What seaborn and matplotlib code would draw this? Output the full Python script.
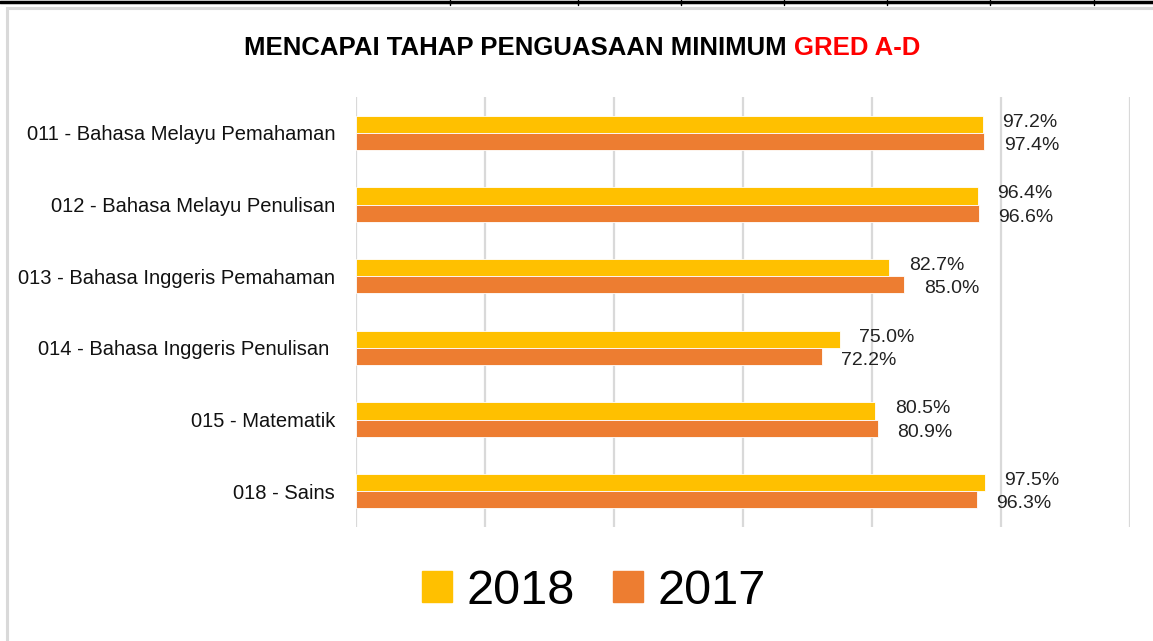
import matplotlib
matplotlib.use('Agg')
import matplotlib.pyplot as plt
import seaborn as sns
import pandas as pd
from matplotlib.lines import Line2D
from matplotlib.patches import Rectangle

subjects = ['011 - Bahasa Melayu Pemahaman',
            '012 - Bahasa Melayu Penulisan',
            '013 - Bahasa Inggeris Pemahaman',
            '014 - Bahasa Inggeris Penulisan ',
            '015 - Matematik',
            '018 - Sains']
years = ['2018', '2017']
pct_2018 = [97.2, 96.4, 82.7, 75.0, 80.5, 97.5]
pct_2017 = [97.4, 96.6, 85.0, 72.2, 80.9, 96.3]
colors = ['#FFC000', '#ED7D31']

df = pd.DataFrame({'subject': subjects * 2,
                   'year': [years[0]] * 6 + [years[1]] * 6,
                   'value': pct_2018 + pct_2017})

sns.set_style('white')
plt.rcParams['font.family'] = ['Liberation Sans', 'DejaVu Sans']
plt.rcParams['text.color'] = 'black'

fig = plt.figure(figsize=(11.53, 6.41), dpi=100)
ax = fig.add_axes([356 / 1153, 1 - 527 / 641, (1130 - 356) / 1153, 430 / 641])

sns.barplot(data=df, y='subject', x='value', hue='year', hue_order=years,
            order=subjects, palette=colors, saturation=1, orient='h', width=0.475,
            edgecolor='white', linewidth=0.6, ax=ax, legend=False)

ax.set_xlim(0, 120)
ax.set_ylim(5.5, -0.5)
ax.set_xticks(range(0, 121, 20))
ax.set_xticklabels([])
ax.grid(axis='x', color='#D9D9D9', linewidth=1.6)
ax.grid(axis='y', visible=False)
ax.set_axisbelow(True)
for s in ax.spines.values():
    s.set_visible(False)
ax.tick_params(axis='both', length=0)
ax.tick_params(axis='y', pad=15, labelsize=14.5, labelcolor='#111111')
ax.set_xlabel('')
ax.set_ylabel('')

# value labels, 2018 nudged up and 2017 nudged down like the original
for c, dy in zip(ax.containers, [1.5, -3]):
    labels = ax.bar_label(c, fmt='%.1f%%', padding=14, fontsize=14, color='#222222')
    for lab in labels:
        lab.xyann = (14, dy)

# title with red ending
t1 = fig.text(0, 0.925, 'MENCAPAI TAHAP PENGUASAAN MINIMUM ', fontsize=18.5,
              fontweight='bold', va='center', color='black')
t2 = fig.text(0, 0.925, 'GRED A-D', fontsize=18.5, fontweight='bold',
              va='center', color='#FF0000')
r = fig.canvas.get_renderer()
w1 = t1.get_window_extent(r).width / 1153
w2 = t2.get_window_extent(r).width / 1153
x0 = 582 / 1153 - (w1 + w2) / 2
t1.set_x(x0)
t2.set_x(x0 + w1)

# legend
handles = [Rectangle((0, 0), 1, 1, color=c) for c in colors]
fig.legend(handles, years, loc='center', bbox_to_anchor=(594 / 1153, 1 - 591 / 641),
           ncol=2, frameon=False, fontsize=35, handlelength=0.6, handleheight=0.6,
           handletextpad=0.3, columnspacing=0.8, labelcolor='black')

# outer chart frame and top table line
fig.add_artist(Rectangle((7 / 1153, -0.1), 1.2, 1 - 8 / 641 + 0.1, transform=fig.transFigure,
                         fill=False, edgecolor='#D9D9D9', linewidth=2.2))
fig.add_artist(Line2D([0, 1], [1 - 1.5 / 641] * 2, transform=fig.transFigure,
                      color='black', linewidth=2.5))
for px in [450, 578, 681, 784, 887, 990, 1094]:
    fig.add_artist(Line2D([px / 1153] * 2, [1, 1 - 5 / 641], transform=fig.transFigure,
                          color='black', linewidth=1))

fig.savefig('out.png', dpi=100)
